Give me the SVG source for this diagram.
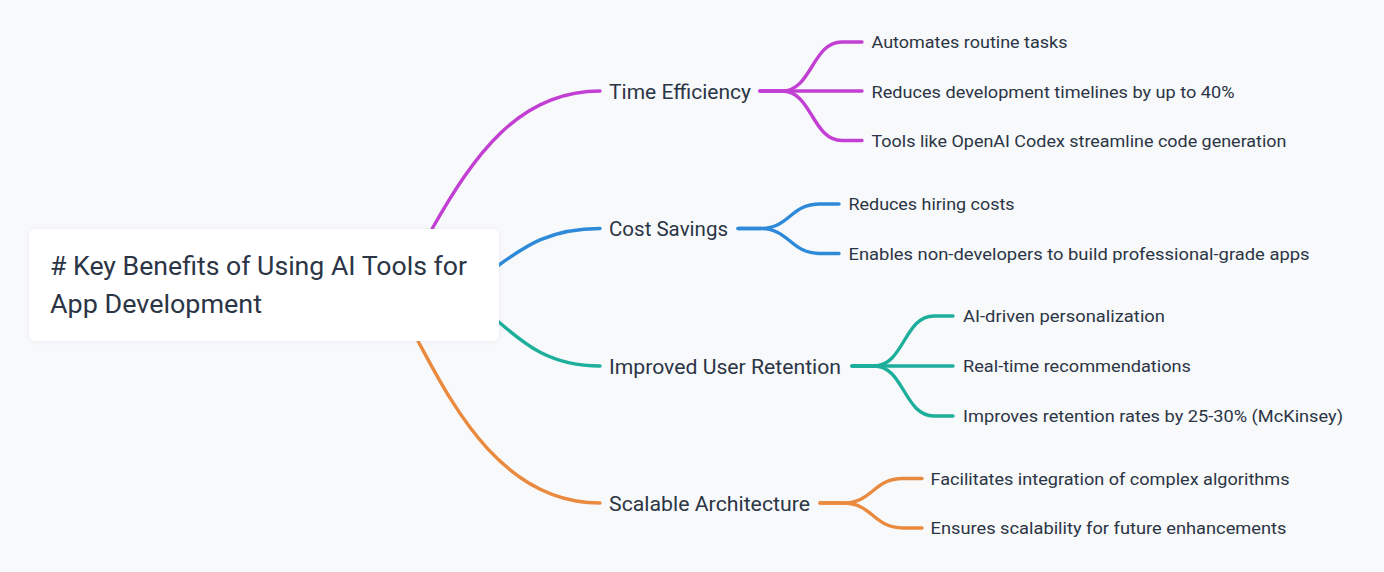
<svg xmlns="http://www.w3.org/2000/svg" width="1384" height="572" viewBox="0 0 1384 572">
<style>
.bg{fill:#f8f9fb}
.ln{fill:none;stroke-width:3.4;stroke-linecap:round;stroke-linejoin:round}
.m{stroke:#c23fd3}
.b{stroke:#2e8ad9}
.t{stroke:#1daf9c}
.o{stroke:#ea8a3f}
text{font-family:Roboto,"Noto Sans","Liberation Sans",sans-serif;fill:#2b3545}
.root{font-size:25px}
.main{font-size:21px}
.leaf{font-size:17px}
</style>
<defs>
<filter id="sh" x="-10%" y="-20%" width="120%" height="140%">
<feDropShadow dx="0" dy="0" stdDeviation="2.5" flood-color="#8a96a8" flood-opacity="0.18"/>
</filter>
</defs>
<rect class="bg" x="0" y="0" width="1384" height="572"/>
<g id="connectors">
<path class="ln m" d="M426 239 L432 229 C473 157 518 91 600 91"/>
<path class="ln b" d="M400 300 C500 300 500 228.5 600 228.5"/>
<path class="ln t" d="M400 280 C500 280 500 366 600 366"/>
<path class="ln o" d="M412 330 L418 341 C450 400 500 503 600 503"/>
<path class="ln m" d="M760 91 L782 91 C812 91 812 42 842 42 L862 42"/>
<path class="ln m" d="M760 91 L862 91"/>
<path class="ln m" d="M760 91 L782 91 C812 91 812 140.5 842 140.5 L862 140.5"/>
<path class="ln b" d="M738 228.5 L760 228.5 C790 228.5 790 204 820 204 L839 204"/>
<path class="ln b" d="M738 228.5 L760 228.5 C790 228.5 790 253.5 820 253.5 L839 253.5"/>
<path class="ln t" d="M852 366 L874 366 C904 366 904 316 934 316 L953 316"/>
<path class="ln t" d="M852 366 L953 366"/>
<path class="ln t" d="M852 366 L874 366 C904 366 904 416 934 416 L953 416"/>
<path class="ln o" d="M820 503 L843 503 C873 503 873 478.5 903 478.5 L922 478.5"/>
<path class="ln o" d="M820 503 L843 503 C873 503 873 528 903 528 L922 528"/>
</g>
<g id="root">
<rect x="29" y="229" width="470" height="112" rx="6" fill="#ffffff" filter="url(#sh)"/>
<text class="root" x="50" y="275" textLength="417" lengthAdjust="spacingAndGlyphs"># Key Benefits of Using AI Tools for</text>
<text class="root" x="50" y="313" textLength="212" lengthAdjust="spacingAndGlyphs">App Development</text>
</g>
<g id="time-efficiency">
<text class="main" x="609" y="98.5" textLength="142" lengthAdjust="spacingAndGlyphs">Time Efficiency</text>
</g>
<g id="cost-savings">
<text class="main" x="609" y="236" textLength="119" lengthAdjust="spacingAndGlyphs">Cost Savings</text>
</g>
<g id="user-retention">
<text class="main" x="609" y="373.5" textLength="232" lengthAdjust="spacingAndGlyphs">Improved User Retention</text>
</g>
<g id="scalable-architecture">
<text class="main" x="609" y="510.5" textLength="201" lengthAdjust="spacingAndGlyphs">Scalable Architecture</text>
</g>
<g id="leaf-automates">
<text class="leaf" x="871.5" y="48" textLength="196" lengthAdjust="spacingAndGlyphs">Automates routine tasks</text>
</g>
<g id="leaf-timelines">
<text class="leaf" x="871.5" y="97.5" textLength="363" lengthAdjust="spacingAndGlyphs">Reduces development timelines by up to 40%</text>
</g>
<g id="leaf-codex">
<text class="leaf" x="871.5" y="147" textLength="415" lengthAdjust="spacingAndGlyphs">Tools like OpenAI Codex streamline code generation</text>
</g>
<g id="leaf-hiring">
<text class="leaf" x="848.5" y="210" textLength="166" lengthAdjust="spacingAndGlyphs">Reduces hiring costs</text>
</g>
<g id="leaf-nondevs">
<text class="leaf" x="848.5" y="259.5" textLength="461" lengthAdjust="spacingAndGlyphs">Enables non-developers to build professional-grade apps</text>
</g>
<g id="leaf-personalization">
<text class="leaf" x="963" y="322" textLength="202" lengthAdjust="spacingAndGlyphs">AI-driven personalization</text>
</g>
<g id="leaf-recommendations">
<text class="leaf" x="963" y="372" textLength="228" lengthAdjust="spacingAndGlyphs">Real-time recommendations</text>
</g>
<g id="leaf-retention-rates">
<text class="leaf" x="963" y="422" textLength="380" lengthAdjust="spacingAndGlyphs">Improves retention rates by 25-30% (McKinsey)</text>
</g>
<g id="leaf-algorithms">
<text class="leaf" x="930.5" y="484.5" textLength="359" lengthAdjust="spacingAndGlyphs">Facilitates integration of complex algorithms</text>
</g>
<g id="leaf-scalability">
<text class="leaf" x="930.5" y="534" textLength="356" lengthAdjust="spacingAndGlyphs">Ensures scalability for future enhancements</text>
</g>
</svg>
